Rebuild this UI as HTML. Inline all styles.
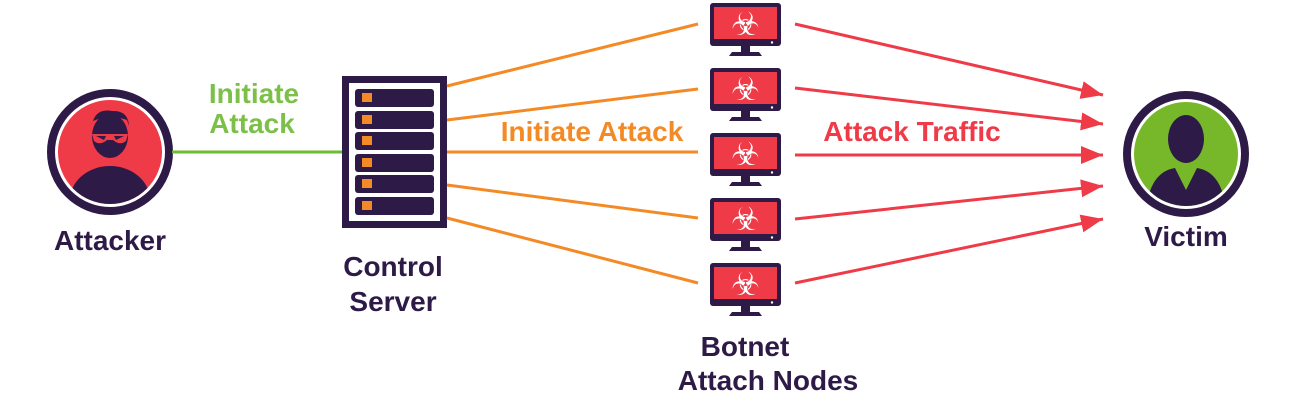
<!DOCTYPE html>
<html><head><meta charset="utf-8"><style>
html,body{margin:0;padding:0;background:#fff;}
svg{display:block;}
text{font-family:"Liberation Sans",sans-serif;font-weight:bold;font-size:28px;}
</style></head><body>
<svg width="1291" height="414" viewBox="0 0 1291 414" xmlns="http://www.w3.org/2000/svg">
<defs>
<g id="mon">
<rect x="0" y="0" width="71" height="43" rx="3" fill="#2e1a47"/>
<rect x="4" y="4" width="63" height="32" fill="#ef3a47"/>
<circle cx="62" cy="39.5" r="1.2" fill="#fff"/>
<rect x="31" y="43" width="9" height="6" fill="#2e1a47"/>
<path d="M22 49 H49 L52 53 H19 Z" fill="#2e1a47"/>
<text x="35.5" y="32" text-anchor="middle" fill="#fff" style="font-family:'DejaVu Sans',sans-serif;font-size:32px;font-weight:normal">☣</text>
</g>
<marker id="ar" markerWidth="22" markerHeight="18" refX="22" refY="9" orient="auto" markerUnits="userSpaceOnUse" viewBox="0 0 22 18">
<path d="M0 0 L22 9 L0 18 Z" fill="#ef3a47"/>
</marker>
</defs>
<!-- attacker -->
<circle cx="110" cy="152" r="59" fill="#fff" stroke="#2e1a47" stroke-width="8"/>
<circle cx="110" cy="152" r="52" fill="#ef3a47"/>
<clipPath id="c1"><circle cx="110" cy="152" r="52"/></clipPath>
<g clip-path="url(#c1)" fill="#2e1a47">
<ellipse cx="110" cy="136" rx="18" ry="22"/>
<path d="M92 125 Q95 108 112 111 Q128 110 129 126 L127 120 Q110 114 93 121 Z"/>
<ellipse cx="110" cy="200" rx="40" ry="34"/>
</g>
<path d="M92 134 L128 134 L126 141 Q120 146 113 140 L107 140 Q100 146 94 141 Z" fill="#ef3a47"/>
<path d="M96 136 L106 136 L104 140 Z M114 136 L124 136 L116 140 Z" fill="#2e1a47"/>
<line x1="172" y1="152" x2="343" y2="152" stroke="#6cbd2f" stroke-width="3"/>
<text x="254" y="103" text-anchor="middle" fill="#7cc04a">Initiate</text>
<text x="252" y="133" text-anchor="middle" fill="#7cc04a">Attack</text>
<text x="110" y="250" text-anchor="middle" fill="#2e1a47">Attacker</text>
<!-- server -->
<rect x="342" y="76" width="105" height="152" fill="#2e1a47"/>
<rect x="349" y="83" width="91" height="138" fill="#fff"/>
<g fill="#2e1a47">
<rect x="355" y="89" width="79" height="18" rx="3"/>
<rect x="355" y="111" width="79" height="18" rx="3"/>
<rect x="355" y="132" width="79" height="18" rx="3"/>
<rect x="355" y="154" width="79" height="18" rx="3"/>
<rect x="355" y="175" width="79" height="18" rx="3"/>
<rect x="355" y="197" width="79" height="18" rx="3"/>
</g>
<g fill="#f48a25">
<rect x="362" y="93" width="10" height="9"/>
<rect x="362" y="115" width="10" height="9"/>
<rect x="362" y="136" width="10" height="9"/>
<rect x="362" y="158" width="10" height="9"/>
<rect x="362" y="179" width="10" height="9"/>
<rect x="362" y="201" width="10" height="9"/>
</g>
<text x="393" y="276" text-anchor="middle" fill="#2e1a47">Control</text>
<text x="393" y="311" text-anchor="middle" fill="#2e1a47">Server</text>
<!-- orange lines -->
<g stroke="#f48a25" stroke-width="3">
<line x1="447" y1="86" x2="698" y2="24"/>
<line x1="447" y1="120" x2="698" y2="89"/>
<line x1="447" y1="152" x2="698" y2="152"/>
<line x1="447" y1="185" x2="698" y2="218"/>
<line x1="447" y1="218" x2="698" y2="283"/>
</g>
<text x="592" y="141" text-anchor="middle" fill="#f48a25">Initiate Attack</text>
<!-- monitors -->
<use href="#mon" x="710" y="3"/>
<use href="#mon" x="710" y="68"/>
<use href="#mon" x="710" y="133"/>
<use href="#mon" x="710" y="198"/>
<use href="#mon" x="710" y="263"/>
<text x="745" y="356" text-anchor="middle" fill="#2e1a47">Botnet</text>
<text x="768" y="390" text-anchor="middle" fill="#2e1a47">Attach Nodes</text>
<!-- red arrows -->
<g stroke="#ef3a47" stroke-width="3" marker-end="url(#ar)">
<line x1="795" y1="24" x2="1103" y2="95"/>
<line x1="795" y1="88" x2="1103" y2="124"/>
<line x1="795" y1="155" x2="1103" y2="155"/>
<line x1="795" y1="219" x2="1103" y2="186"/>
<line x1="795" y1="283" x2="1103" y2="219"/>
</g>
<text x="912" y="141" text-anchor="middle" fill="#ef3a47">Attack Traffic</text>
<!-- victim -->
<circle cx="1186" cy="154" r="59" fill="#fff" stroke="#2e1a47" stroke-width="8"/>
<circle cx="1186" cy="154" r="52" fill="#76b82a"/>
<clipPath id="c2"><circle cx="1186" cy="154" r="52"/></clipPath>
<g clip-path="url(#c2)" fill="#2e1a47">
<ellipse cx="1186" cy="139" rx="18" ry="24"/>
<path d="M1146 210 Q1150 172 1175 168 L1186 190 L1197 168 Q1222 172 1226 210 Z"/>
</g>
<text x="1186" y="246" text-anchor="middle" fill="#2e1a47">Victim</text>
</svg>
</body></html>
